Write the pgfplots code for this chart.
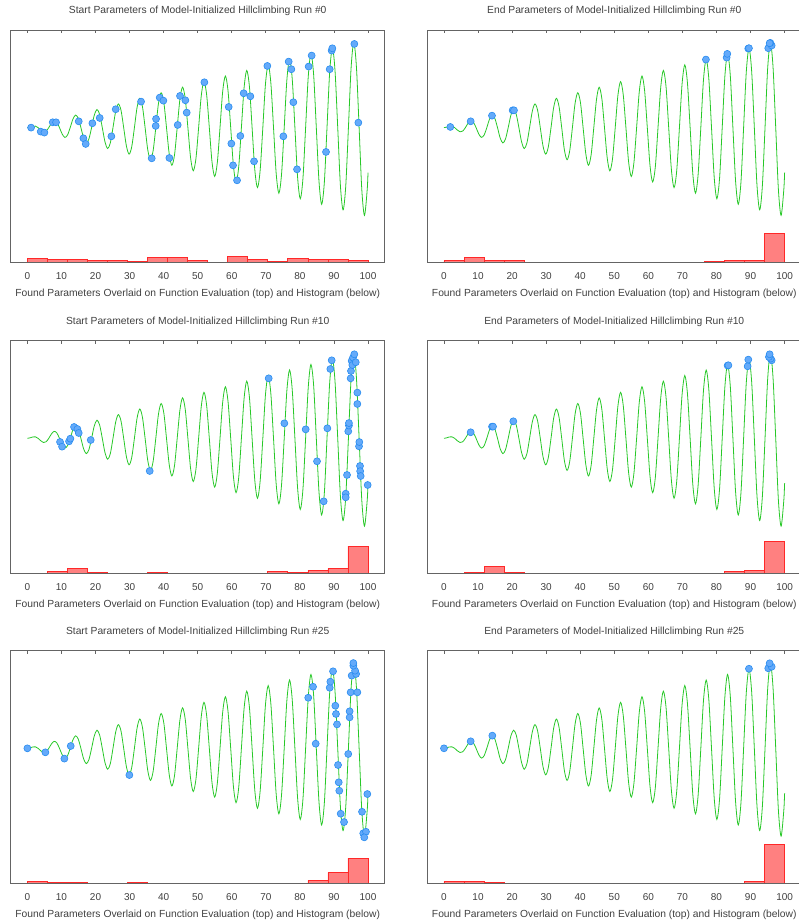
\documentclass[border=0pt]{standalone}
\usepackage{fontspec}
\setmainfont{Liberation Sans}
\usepackage{pgfplots}
\usepackage{pgfplotstable}
\pgfplotsset{compat=1.18}
\definecolor{curvec}{RGB}{40,200,40}
\definecolor{ptfill}{RGB}{100,170,250}
\definecolor{ptdraw}{RGB}{40,140,240}
\definecolor{histfill}{RGB}{255,128,128}
\definecolor{histdraw}{RGB}{255,40,40}
\definecolor{txt}{RGB}{64,64,64}
\definecolor{axc}{RGB}{100,100,100}

\pgfplotstableread{
x y
0 0
0.79 0.56
1.57 1.57
2.36 1.67
3.14 0
3.93 -2.78
4.71 -4.71
5.50 -3.89
6.28 0
7.07 5.00
7.85 7.85
8.64 6.11
9.42 0
10.21 -7.22
11.00 -11.00
11.78 -8.33
12.57 0
13.35 9.44
14.14 14.14
14.92 10.55
15.71 0
16.49 -11.66
17.28 -17.28
18.06 -12.77
18.85 0
19.63 13.88
20.42 20.42
21.21 14.99
21.99 0
22.78 -16.11
23.56 -23.56
24.35 -17.22
25.13 0
25.92 18.33
26.70 26.70
27.49 19.44
28.27 0
29.06 -20.55
29.85 -29.85
30.63 -21.66
31.42 0
32.20 22.77
32.99 32.99
33.77 23.88
34.56 0
35.34 -24.99
36.13 -36.13
36.91 -26.10
37.70 0
38.48 27.21
39.27 39.27
40.06 28.32
40.84 0
41.63 -29.43
42.41 -42.41
43.20 -30.54
43.98 0
44.77 31.66
45.55 45.55
46.34 32.77
47.12 0
47.91 -33.88
48.69 -48.69
49.48 -34.99
50.27 0
51.05 36.10
51.84 51.84
52.62 37.21
53.41 0
54.19 -38.32
54.98 -54.98
55.76 -39.43
56.55 0
57.33 40.54
58.12 58.12
58.90 41.65
59.69 0
60.48 -42.76
61.26 -61.26
62.05 -43.87
62.83 0
63.62 44.98
64.40 64.40
65.19 46.09
65.97 0
66.76 -47.21
67.54 -67.54
68.33 -48.32
69.12 0
69.90 49.43
70.69 70.69
71.47 50.54
72.26 0
73.04 -51.65
73.83 -73.83
74.61 -52.76
75.40 0
76.18 53.87
76.97 76.97
77.75 54.98
78.54 0
79.33 -56.09
80.11 -80.11
80.90 -57.20
81.68 0
82.47 58.31
83.25 83.25
84.04 59.42
84.82 0
85.61 -60.53
86.39 -86.39
87.18 -61.64
87.96 0
88.75 62.76
89.54 89.54
90.32 63.87
91.11 0
91.89 -64.98
92.68 -92.68
93.46 -66.09
94.25 0
95.03 67.20
95.82 95.82
96.60 68.31
97.39 0
98.17 -69.42
98.96 -98.96
99.75 -70.53
100 -50.64
}\curve

\pgfplotstableread{
x h1 h2 h3 h4 h5 h6
0 4 2 0 0 2 2
5.882 3 5 2 1 1 2
11.765 3 2 5 7 1 1
17.647 2 2 1 1 0 0
23.529 2 0 0 0 0 0
29.412 1 0 0 0 1 0
35.294 5 0 1 0 0 0
41.176 5 0 0 0 0 0
47.059 2 0 0 0 0 0
52.941 0 0 0 0 0 0
58.824 6 0 0 0 0 0
64.706 3 0 0 0 0 0
70.588 1 0 2 0 0 0
76.471 4 1 1 0 0 0
82.353 3 2 3 2 3 0
88.235 3 2 5 3 11 2
94.118 2 30 28 33 26 40
100 2 30 28 33 26 40
}\hist

\pgfplotsset{
  base/.style={scale only axis, width=374pt, height=232.5pt,
    xmin=-4.9, xmax=104.9, anchor=north west},
  panel/.style={base, ymin=-152, ymax=110,
    xtick={0,10,...,100}, ytick=\empty,
    xtick pos=upper, xticklabel pos=lower,
    tick align=inside, major tick length=3pt,
    axis line style={draw=axc, line width=0.8pt},
    tick style={draw=axc, line width=0.8pt},
    /pgf/number format/assume math mode=true,
    tick label style={font=\fontsize{10}{12}\selectfont, color=txt},
    xticklabel style={anchor=center, yshift=-13.8pt},
    title style={at={(axis description cs:0.5,1)}, anchor=center, yshift=13pt,
      font=\fontsize{10.3}{12}\selectfont, color=txt},
    xlabel style={at={(axis description cs:0.5,0)}, anchor=center, yshift=-31.8pt,
      font=\fontsize{10.3}{12}\selectfont, color=txt},
    xlabel={Found Parameters Overlaid on Function Evaluation (top) and Histogram (below)}},
  histax/.style={base, ymin=0, ymax=240, axis lines=none},
  curvest/.style={curvec, line width=0.8pt, smooth, no marks},
  ptst/.style={only marks, mark=*, mark size=3.5pt,
    mark options={fill=ptfill, draw=ptdraw, line width=0.6pt}},
  histst/.style={ybar interval, fill=histfill, draw=histdraw, line width=0.8pt}
}

\begin{document}
\begin{tikzpicture}[x=1pt,y=1pt]
\useasboundingbox (0,0) rectangle (799,-924);

% ---------- Row 1 left ----------
\begin{axis}[histax, at={(10.7pt,-30pt)}]
\addplot[histst] table[x=x,y=h1]{\hist};
\end{axis}
\begin{axis}[panel, at={(10.7pt,-30pt)},
  title={Start Parameters of Model-Initialized Hillclimbing Run \#0}]
\addplot[curvest] table[x=x,y=y]{\curve};
\addplot[ptst] coordinates {
(1.08,0) (3.91,-4.5) (4.99,-5.6) (7.44,6.0) (8.41,6.0) (15.07,7.1)
(16.44,-12.0) (17.12,-18.4) (19.08,4.9) (21.23,10.9) (24.66,-9.8)
(25.93,20.7) (33.37,29.3) (36.50,-34.6) (37.67,1.9) (37.77,9.8)
(38.85,33.8) (39.92,30.4) (41.68,-34.2) (44.13,3.0) (44.81,35.7)
(46.38,30.8) (46.77,16.9) (51.96,51.1) (59.10,23.3) (59.88,-18.0)
(60.37,-42.5) (61.55,-59.4) (62.52,-9.4) (63.50,38.7) (65.46,35.3)
(66.54,-38.0) (70.45,69.5) (75.15,-9.8) (76.71,74.4) (77.50,65.8)
(78.08,28.6) (79.16,-47.0) (82.58,68.8) (83.46,81.2) (87.67,-27.4)
(88.75,65.8) (89.33,86.8) (89.53,89.4) (95.99,94.3) (97.16,5.6)};
\end{axis}

% ---------- Row 1 right ----------
\begin{axis}[histax, at={(427.3pt,-30pt)}]
\addplot[histst] table[x=x,y=h2]{\hist};
\end{axis}
\begin{axis}[panel, at={(427.3pt,-30pt)},
  title={End Parameters of Model-Initialized Hillclimbing Run \#0}]
\addplot[curvest] table[x=x,y=y]{\curve};
\addplot[ptst] coordinates {
(1.86,0.75) (7.83,7.1) (14.09,13.5) (20.16,19.5) (20.55,19.5)
(76.9,76.7) (82.98,78.9) (83.17,83.1) (89.33,89.1) (89.53,89.5)
(95.2,89.5) (96.2,92.5) (95.8,95.5) (95.6,95.1)};
\end{axis}

% ---------- Row 2 left ----------
\begin{axis}[histax, at={(10.7pt,-340.7pt)}]
\addplot[histst] table[x=x,y=h3]{\hist};
\end{axis}
\begin{axis}[panel, at={(10.7pt,-340.7pt)},
  title={Start Parameters of Model-Initialized Hillclimbing Run \#10}]
\addplot[curvest] table[x=x,y=y]{\curve};
\addplot[ptst] coordinates {
(9.59,-4.1) (10.18,-9.4) (12.23,-3.4) (12.62,-0.4) (13.70,12.8)
(14.68,10.5) (15.07,6.0) (18.59,-1.9) (35.91,-36.8) (70.84,67.6)
(75.44,16.9) (81.70,10.1) (85.03,-25.9) (86.99,-71.0) (88.06,11.3)
(88.94,78.1) (89.34,87.9) (93.45,-62.4) (93.45,-66.5) (93.84,-41.3)
(94.2,7.9) (94.4,14.4) (94.4,17.2) (94.9,67.6) (95.0,75.9)
(95.2,87.2) (95.4,82.6) (95.6,91.0) (96.4,85.7) (95.98,94.7)
(96.87,51.5) (96.87,38.7) (97.36,-9.0) (97.45,-4.2) (97.65,-31.2)
(97.7,-37.0) (97.85,-42.5) (99.9,-52.6)};
\end{axis}

% ---------- Row 2 right ----------
\begin{axis}[histax, at={(427.3pt,-340.7pt)}]
\addplot[histst] table[x=x,y=h4]{\hist};
\end{axis}
\begin{axis}[panel, at={(427.3pt,-340.7pt)},
  title={End Parameters of Model-Initialized Hillclimbing Run \#10}]
\addplot[curvest] table[x=x,y=y]{\curve};
\addplot[ptst] coordinates {
(7.83,6.8) (14.1,13.2) (14.4,13.2) (20.35,19.2) (83.27,82.0)
(83.5,82.3) (89.14,81.2) (89.34,88.7) (96.2,87.9) (95.9,89.8)
(95.4,91.7) (95.6,94.7)};
\end{axis}

% ---------- Row 3 left ----------
\begin{axis}[histax, at={(10.7pt,-650.7pt)}]
\addplot[histst] table[x=x,y=h5]{\hist};
\end{axis}
\begin{axis}[panel, at={(10.7pt,-650.7pt)},
  title={Start Parameters of Model-Initialized Hillclimbing Run \#25}]
\addplot[curvest] table[x=x,y=y]{\curve};
\addplot[ptst] coordinates {
(0,0) (5.28,-4.5) (10.86,-11.6) (12.72,2.6) (29.94,-30.1)
(82.45,57.0) (83.86,69.4) (84.64,5.2) (88.75,68.3) (88.94,75.1)
(89.73,86.8) (90.41,48.0) (90.6,38.7) (90.9,27.0) (91.2,-18.8)
(91.4,-38.3) (91.57,-47.8) (91.98,-73.7) (92.96,-83.1) (94.2,-6.4)
(94.6,41.7) (94.6,34.9) (94.9,63.1) (96.87,63.1) (95.2,81.9)
(96.5,83.8) (96.2,87.5) (95.7,93.1) (95.7,96.1) (98.24,-71.5)
(99.8,-51.5) (98.6,-95.8) (99.4,-94.0) (98.9,-100.3)};
\end{axis}

% ---------- Row 3 right ----------
\begin{axis}[histax, at={(427.3pt,-650.7pt)}]
\addplot[histst] table[x=x,y=h6]{\hist};
\end{axis}
\begin{axis}[panel, at={(427.3pt,-650.7pt)},
  title={End Parameters of Model-Initialized Hillclimbing Run \#25}]
\addplot[curvest] table[x=x,y=y]{\curve};
\addplot[ptst] coordinates {
(0,0) (7.83,7.9) (14.19,14.3) (89.53,89.7) (95.2,90.2)
(96.2,92.0) (95.6,95.8)};
\end{axis}
\end{tikzpicture}
\end{document}
